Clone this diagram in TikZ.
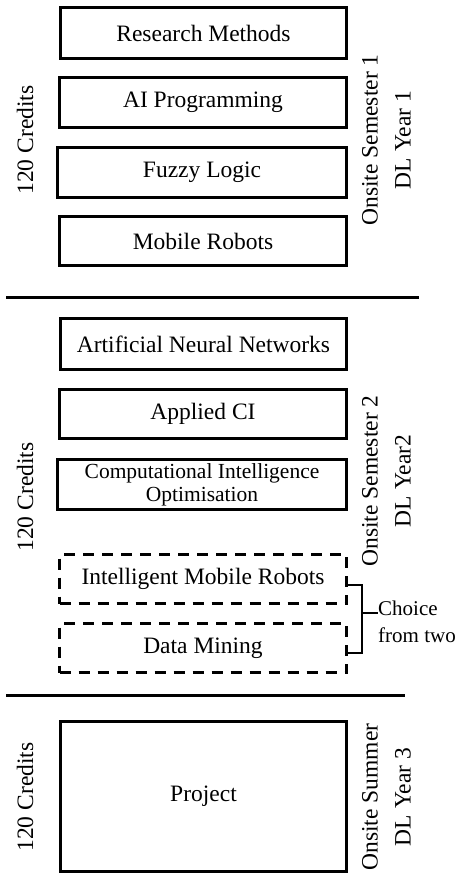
\documentclass[tikz,border=0pt]{standalone}
\usepackage{fontspec}
\setmainfont{Liberation Serif}
\begin{document}
\begin{tikzpicture}[x=1pt,y=-1pt,
  course/.style={draw, line width=3pt, inner sep=0pt, align=center,
    font=\fontsize{23.5}{26}\selectfont},
  optcourse/.style={course, dashed, dash pattern=on 11pt off 8pt},
  credits/.style={rotate=90, font=\fontsize{23.5}{26}\selectfont},
  period/.style={rotate=90, align=center, font=\fontsize{23.5}{33}\selectfont},
  sep/.style={line width=3pt},
  brace/.style={line width=2.5pt}]
\useasboundingbox (0,0) rectangle (466,873);
% Block 1
\node[course, minimum width=286pt, minimum height=51pt] (rm) at (203.5,33) {Research Methods};
\node[course, minimum width=287pt, minimum height=50pt] (ai) at (203,102.5) {AI Programming};
\node[course, minimum width=289pt, minimum height=50pt] (fl) at (202,172.5) {Fuzzy Logic};
\node[course, minimum width=287pt, minimum height=49pt] (mr) at (203,241) {Mobile Robots};
\node[credits] (c1) at (25,140) {120 Credits};
\node[period] (s1) at (386.5,140) {Onsite Semester 1\\DL Year 1};
% Separator 1
\coordinate (l1a) at (6,297);
\coordinate (l1b) at (419,297);
\draw[sep] (l1a) -- (l1b);
% Block 2
\node[course, minimum width=286pt, minimum height=51pt] (ann) at (203.5,344) {Artificial Neural Networks};
\node[course, minimum width=287pt, minimum height=49pt] (aci) at (203,414) {Applied CI};
\node[course, minimum width=289pt, minimum height=50pt, font=\fontsize{21.5}{23}\selectfont] (cio) at (202,484.5) {Computational Intelligence\\Optimisation};
\node[optcourse, minimum width=287pt, minimum height=49pt] (imr) at (203,579) {Intelligent Mobile Robots};
\node[optcourse, minimum width=287pt, minimum height=49pt] (dm) at (203,648) {Data Mining};
\node[credits] (c2) at (25,497) {120 Credits};
\node[period] (s2) at (386.5,481) {Onsite Semester 2\\DL Year2};
% Bracket
\coordinate (b1) at (347,585);
\coordinate (b2) at (362,585);
\coordinate (b3) at (362,653);
\coordinate (b4) at (347,653);
\coordinate (bm) at (362,613);
\node[anchor=west, align=left, inner sep=0pt, font=\fontsize{21}{27}\selectfont] (choice) at (378,622) {Choice\\from two};
\draw[brace] (b1) -- (b2) -- (b3) -- (b4);
\draw[brace] (bm) -- (bm -| choice.west);
% Separator 2
\coordinate (l2a) at (6,695);
\coordinate (l2b) at (405,695);
\draw[sep] (l2a) -- (l2b);
% Block 3
\node[course, minimum width=286pt, minimum height=150pt] (proj) at (203.5,796.5) {Project};
\node[credits] (c3) at (25,797) {120 Credits};
\node[period] (s3) at (386.5,797) {Onsite Summer\\DL Year 3};
\end{tikzpicture}
\end{document}
